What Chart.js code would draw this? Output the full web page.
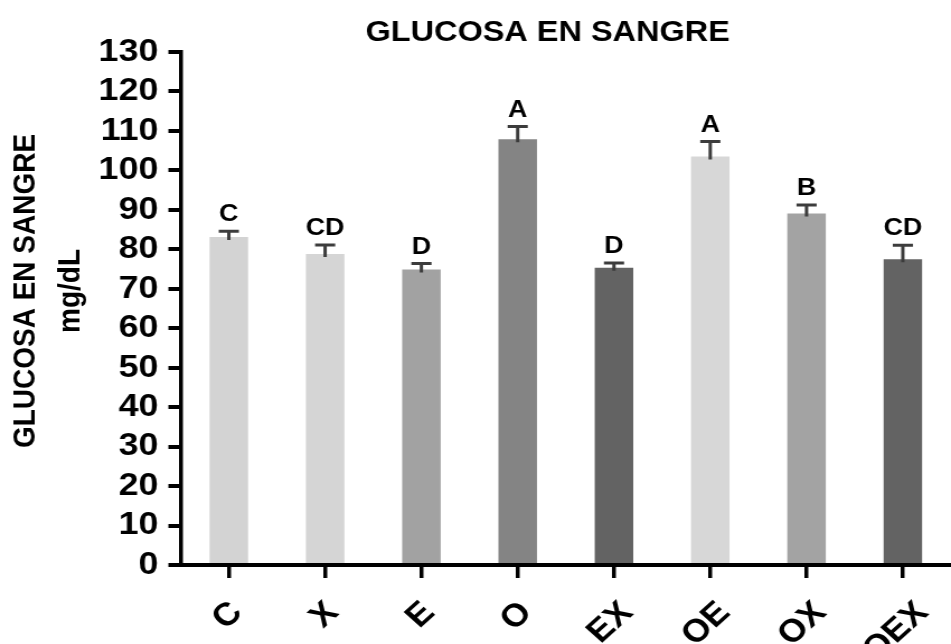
<!DOCTYPE html>
<html>
<head>
<meta charset="utf-8">
<title>Glucosa en sangre</title>
<script src="https://cdn.jsdelivr.net/npm/chart.js@4/dist/chart.umd.min.js"></script>
<style>
  html, body { margin: 0; padding: 0; background: #ffffff; }
  #wrap { width: 951px; height: 644px; overflow: hidden; }
  /* the figure is drawn narrower and widened horizontally, like the original export */
  #c { transform: scaleX(1.1188); transform-origin: 0 0; }
</style>
</head>
<body>
<div id="wrap"><canvas id="c" width="850" height="644"></canvas></div>
<script>
// Groups and blood glucose (mg/dL): mean and upper error
const groups = ['C', 'X', 'E', 'O', 'EX', 'OE', 'OX', 'OEX'];
const glucoseMean = [83.1, 78.8, 74.9, 107.9, 75.3, 103.5, 89.1, 77.5];
const glucoseErr = [1.5, 2.3, 1.5, 3.2, 1.2, 3.8, 2.1, 3.5];
// Significance letters shown above each bar
const groupLetters = ['C', 'CD', 'D', 'A', 'D', 'A', 'B', 'CD'];
const barColors = ['#d3d3d3', '#d5d5d5', '#a2a2a2', '#848484', '#636363', '#d7d7d7', '#a3a3a3', '#636363'];
// Value axis
const yMin = 0;
const yMax = 130;
const yStep = 10;
const chartTitle = 'GLUCOSA EN SANGRE';
const yTitle = ['GLUCOSA EN SANGRE', 'mg/dL'];

const FONT = "'Liberation Sans', Arial, Helvetica, sans-serif";

// Upper error bars plus the letters above them
const errorBarPlugin = {
  id: 'errorBars',
  afterDatasetsDraw(chart) {
    const { ctx, scales: { x, y } } = chart;
    ctx.save();
    ctx.strokeStyle = '#3c3c3c';
    ctx.lineWidth = 3;
    ctx.lineCap = 'butt';
    ctx.fillStyle = '#000';
    ctx.font = `bold 24px ${FONT}`;
    ctx.textAlign = 'center';
    ctx.textBaseline = 'alphabetic';
    glucoseMean.forEach((m, i) => {
      const px = x.getPixelForValue(i);
      const yBar = y.getPixelForValue(m);
      const yTop = y.getPixelForValue(m + glucoseErr[i]);
      ctx.beginPath();
      ctx.moveTo(px, yBar + 3);
      ctx.lineTo(px, yTop);
      ctx.moveTo(px - 9, yTop);
      ctx.lineTo(px + 9, yTop);
      ctx.stroke();
      ctx.fillText(groupLetters[i], px, yTop - 10);
    });
    ctx.restore();
  }
};

// Titles and rotated category labels
const textPlugin = {
  id: 'texts',
  afterDraw(chart) {
    const { ctx, chartArea, scales: { x } } = chart;
    ctx.save();
    ctx.fillStyle = '#000';

    // chart title
    ctx.font = `bold 29px ${FONT}`;
    ctx.textAlign = 'center';
    ctx.textBaseline = 'alphabetic';
    ctx.fillText(chartTitle, chartArea.left + 328, 41);

    // value axis title, two lines
    ctx.font = `bold 28px ${FONT}`;
    ctx.textBaseline = 'middle';
    const cy = chartArea.top + 239;
    [23, 63.5].forEach((lx, k) => {
      ctx.save();
      ctx.translate(lx, cy);
      ctx.rotate(-Math.PI / 2);
      ctx.fillText(yTitle[k], 0, 0);
      ctx.restore();
    });

    // category labels at 45 degrees
    ctx.font = `bold 32px ${FONT}`;
    ctx.textAlign = 'center';
    ctx.textBaseline = 'middle';
    const s = Math.SQRT1_2;
    groups.forEach((g, i) => {
      const px = x.getPixelForValue(i);
      const w = ctx.measureText(g).width;
      const ext = (w + 22) * s;
      const topY = chartArea.bottom + 35;
      ctx.save();
      ctx.translate(px + 2 - 0.12 * w, topY + ext / 2);
      ctx.rotate(-Math.PI / 4);
      ctx.fillText(g, 0, 0);
      ctx.restore();
    });
    ctx.restore();
  }
};

new Chart(document.getElementById('c'), {
  type: 'bar',
  data: {
    labels: groups,
    datasets: [{
      data: glucoseMean,
      backgroundColor: barColors,
      borderWidth: 0,
      barPercentage: 0.4,
      categoryPercentage: 1.0
    }]
  },
  options: {
    responsive: false,
    devicePixelRatio: 1,
    animation: false,
    layout: { padding: { top: 52, right: 0, bottom: 0, left: 0 } },
    plugins: {
      legend: { display: false },
      tooltip: { enabled: false },
      title: { display: false }
    },
    scales: {
      x: {
        offset: true,
        grid: {
          offset: false,
          drawOnChartArea: false,
          drawTicks: true,
          tickLength: 13,
          lineWidth: 3.5,
          color: '#000'
        },
        border: { display: true, width: 4, color: '#000' },
        ticks: { display: false },
        afterFit(scale) { scale.height = 79; }
      },
      y: {
        min: yMin,
        max: yMax,
        ticks: {
          stepSize: yStep,
          autoSkip: false,
          color: '#000',
          padding: 9,
          font: { family: FONT, size: 32, weight: 'bold' }
        },
        grid: {
          drawOnChartArea: false,
          drawTicks: true,
          tickLength: 11,
          lineWidth: 4,
          color: '#000'
        },
        border: { display: true, width: 3.5, color: '#000' },
        afterFit(scale) { scale.width = 161.5; }
      }
    }
  },
  plugins: [errorBarPlugin, textPlugin]
});
</script>
</body>
</html>
